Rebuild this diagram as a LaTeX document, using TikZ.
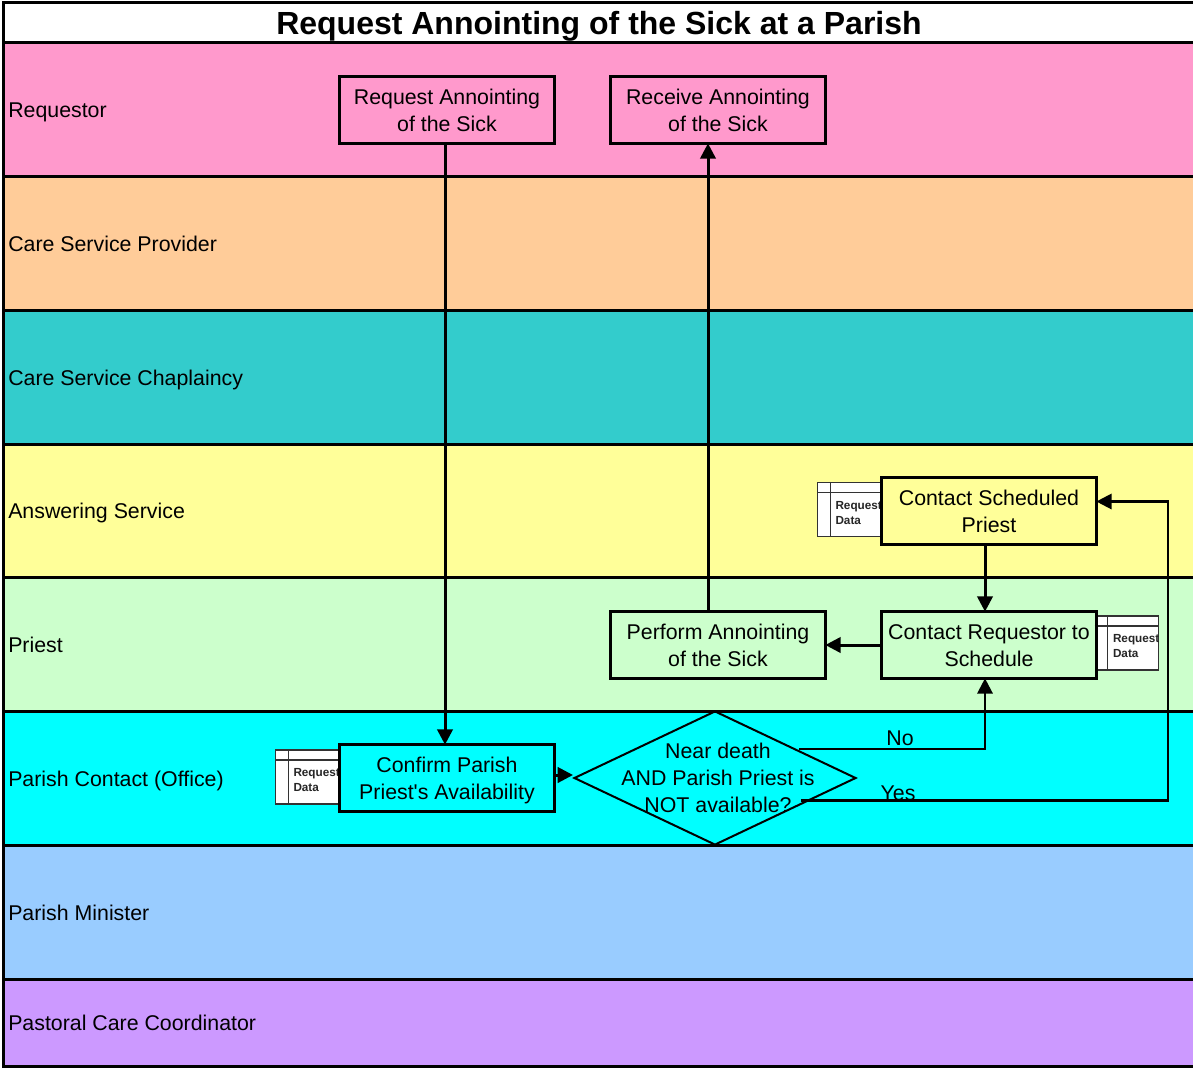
\documentclass[tikz,border=0pt]{standalone}
\usepackage{fontspec}
\setmainfont{Liberation Sans}
\newfontfamily\straightfont{Liberation Sans}
\usetikzlibrary{shapes.geometric, arrows.meta, positioning}
\definecolor{lanepink}{RGB}{255, 153, 204}
\definecolor{laneorange}{RGB}{255, 204, 153}
\definecolor{laneteal}{RGB}{51, 204, 204}
\definecolor{laneyellow}{RGB}{255, 255, 153}
\definecolor{lanegreen}{RGB}{204, 255, 204}
\definecolor{lanecyan}{RGB}{0, 255, 255}
\definecolor{laneblue}{RGB}{153, 204, 255}
\definecolor{lanepurple}{RGB}{204, 153, 255}
\newcommand{\topgap}{\vrule width 0pt height 15.4pt\relax}
\tikzset{
  lanelabel/.style={anchor=west, inner sep=0pt, text height=12pt, text depth=3.5pt, font=\fontsize{16}{20}\selectfont},
  taskbox/.style={draw, line width=2.25pt, outer sep=0pt, minimum width=161pt, minimum height=50pt, inner sep=0pt,
    align=center, font=\fontsize{16}{20.3}\selectfont,
    execute at end node={\vrule width 0pt depth 3.5pt}},
  storebox/.style={draw=black!80, fill=white, line width=0.9pt, minimum width=47.5pt, minimum height=40.5pt, inner sep=0pt},
  storetext/.style={anchor=north west, inner sep=0pt, align=left, text=black!85,
    font=\fontsize{8.8}{11.25}\selectfont\bfseries},
  flow/.style={line width=2.25pt, -{Triangle[length=11.5pt, width=11.5pt]}},
  thinflow/.style={line width=1.75pt, -{Triangle[length=11.5pt, width=11.5pt]}},
  branchlabel/.style={inner sep=0pt, font=\fontsize{16}{20}\selectfont}
}
\begin{document}
\begin{tikzpicture}[x=0.75pt, y=-0.75pt]
  \useasboundingbox (0, 0) rectangle (1193, 1068);

  % Title row
  \draw[line width=2.25pt, fill=white] (3, 2) rectangle (1198, 42);
  \node[inner sep=0pt, font=\fontsize{24}{28}\selectfont\bfseries] (title) at (599, 26)
    {Request Annointing of the Sick at a Parish};

  % Lanes
  \foreach \ytop/\ybot/\col/\lane in {
    42/176/lanepink/Requestor,
    176/310/laneorange/Care Service Provider,
    310/444/laneteal/Care Service Chaplaincy,
    444/577/laneyellow/Answering Service,
    577/711/lanegreen/Priest,
    711/845/lanecyan/Parish Contact (Office),
    845/979/laneblue/Parish Minister,
    979/1066/lanepurple/Pastoral Care Coordinator} {
    \draw[line width=2.25pt, fill=\col] (3, \ytop) rectangle (1198, \ybot);
    \node[lanelabel] (lane\ytop) at (8, {(\ytop+\ybot)/2+2.7}) {\lane};
  }

  % Data stores behind the tasks
  \foreach \store/\x/\y in {scheduledata/849.5/509.5, confirmdata/307.5/777} {
    \node[storebox] (\store) at (\x, \y) {};
    \draw[draw=black!80, line width=0.9pt] ([xshift=9.75pt]\store.north west) -- ([xshift=9.75pt]\store.south west);
    \draw[draw=black!80, line width=0.9pt] ([yshift=-8pt]\store.north west) -- ([yshift=-8pt]\store.north east);
    \begin{scope}
      \clip (\store.north west) rectangle (\store.south east);
      \node[storetext] (\store text) at ([shift={(18, 19)}]\store.north west) {Request\\Data};
    \end{scope}
  }

  % Tasks
  \node[taskbox, fill=lanepink] (requestsick) at (447, 110) {\topgap Request Annointing\\of the Sick};
  \node[taskbox, fill=lanepink] (receivesick) at (718, 110) {\topgap Receive Annointing\\of the Sick};
  \node[taskbox, fill=laneyellow] (contactpriest) at (989, 511) {\topgap Contact Scheduled\\Priest};
  \node[taskbox, fill=lanegreen] (contactrequestor) at (989, 645) {\topgap Contact Requestor to\\Schedule};
  \node[taskbox, fill=lanegreen] (perform) at (718, 645) {\topgap Perform Annointing\\of the Sick};
  \node[taskbox, fill=lanecyan] (confirm) at (447, 778) {\topgap Confirm Parish\\Priest{\straightfont'}s Availability};

  % This store sits over the edge of its task
  \node[storebox] (requestordata) at (1127, 643) {};
  \draw[draw=black!80, line width=0.9pt] ([xshift=9.75pt]requestordata.north west) -- ([xshift=9.75pt]requestordata.south west);
  \draw[draw=black!80, line width=0.9pt] ([yshift=-8pt]requestordata.north west) -- ([yshift=-8pt]requestordata.north east);
  \begin{scope}
    \clip (requestordata.north west) rectangle (requestordata.south east);
    \node[storetext] (requestordata text) at ([shift={(18, 19)}]requestordata.north west) {Request\\Data};
  \end{scope}
  \draw[line width=2.25pt] (contactrequestor.north east) -- (contactrequestor.south east);

  % Decision
  \node[diamond, draw, line width=1.5pt, minimum width=211.5pt, minimum height=100.5pt, aspect=2.1, inner sep=0pt]
    (decision) at (715, 778) {};
  \node[align=center, inner sep=0pt, font=\fontsize{16}{20.5}\selectfont] (decisiontext) at (718, 778)
    {Near death\\AND Parish Priest is\\NOT available?};

  % Connectors
  \draw[flow] ([xshift=-1.5pt]requestsick.south) -- ([xshift=-1.5pt]confirm.north);
  \draw[flow] ([xshift=-7.5pt]perform.north) -- ([xshift=-7.5pt]receivesick.south);
  \draw[flow] ([xshift=-3pt]contactpriest.south) -- ([xshift=-3pt]contactrequestor.north);
  \draw[flow] (contactrequestor.west) -- (perform.east);
  \draw[flow] ([shift={(0, -3)}]confirm.east) -- ([shift={(0, -3)}]decision.west);

  % No branch
  \draw[thinflow] ([shift={(-58, -29)}]decision.east) -| ([xshift=-3pt]contactrequestor.south);
  \node[branchlabel] (nolabel) at (900, 738) {No};

  % Yes branch
  \coordinate (yesturn) at (1168, 501.5);
  \draw[thinflow] ([shift={(-56, 22.5)}]decision.east) -| (yesturn) -- ([shift={(0, -9.5)}]contactpriest.east);
  \node[branchlabel] (yeslabel) at (898, 793) {Yes};
\end{tikzpicture}
\end{document}
